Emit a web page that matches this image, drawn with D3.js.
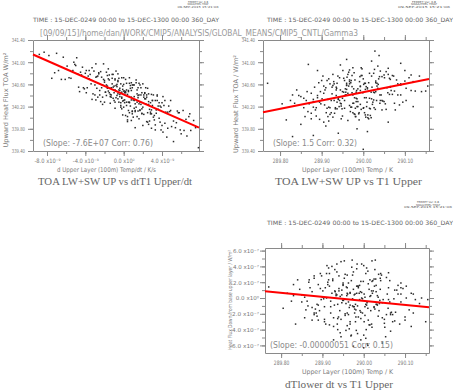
<!DOCTYPE html>
<html>
<head>
<meta charset="utf-8">
<style>
body { margin: 0; background: #fff; }
svg { display: block; font-family: "DejaVu Sans", sans-serif; }
.axis path, .axis line { stroke: #8a8a8a; }
.axis text { fill: #7a7a7a; font-family: "DejaVu Sans", sans-serif; }
.small { fill: #7a7a7a; }
.title { fill: #666; font-family: "Liberation Serif", "DejaVu Serif", serif; }
</style>
</head>
<body>
<svg width="453" height="390"></svg>
<script src="https://cdn.jsdelivr.net/npm/d3@7"></script>
<script>
// ---- data ----
// panel 1: d(T1 upper)/dt in units of 1e-9 K/s vs TOA upward flux (W/m2)
var dT1dt = [
-0.4,1.2,-2.1,0.8,3.5,-1.3,0.1,2.4,-3.6,1.7, 0.5,-0.9,4.3,-4.8,2.0,-0.2,1.5,-2.7,5.6,0.3,
-1.8,2.9,-0.6,1.0,-5.9,3.1,-1.1,0.6,6.8,-3.0, 1.9,-0.1,2.6,-2.4,0.9,4.9,-1.6,0.0,-7.2,3.8,
-0.8,1.4,-3.3,2.2,0.2,-4.2,3.3,-1.4,1.1,5.2, -2.2,0.7,-0.3,2.8,-5.1,1.6,-1.0,4.1,-0.5,0.4,
3.0,-1.9,1.3,-6.5,0.6,2.5,-2.9,6.2,-0.7,1.8, -3.9,0.1,3.7,-1.2,2.1,-0.4,7.5,-2.5,0.9,-4.5,
1.6,-1.5,4.6,-0.2,2.3,-3.2,0.5,3.4,-8.3,1.1, -0.9,2.7,-2.0,0.3,5.9,-1.7,1.5,-5.5,0.8,3.9,
-0.1,1.9,-3.7,2.9,-1.3,0.6,4.4,-2.6,1.2,-0.6, 3.2,-4.0,0.2,2.1,-1.8,6.5,-0.3,1.4,-2.3,0.9,
-6.1,2.4,-0.8,4.0,0.0,-2.8,1.7,-1.1,3.6,-0.4, 1.0,-3.4,5.0,-0.7,2.6,-1.6,0.4,-4.7,3.0,7.0,
-2.0,0.7,-0.2,1.8,-7.8,2.2,-1.4,0.1,4.7,-2.9, 1.3,-0.9,3.3,-5.0,0.5,2.0,-1.7,5.4,-0.1,1.5,
-3.1,2.8,-0.5,0.8,-2.2,4.2,-1.0,3.1,-4.4,0.3, 6.0,-1.2,1.1,-0.3,2.5,-6.8,0.6,-2.4,3.8,1.9,
-0.7,2.3,-3.8,1.4,-1.5,0.0,5.7,-0.6,2.9,-2.6, 0.9,-5.3,3.5,-1.9,0.2,1.7,-0.9,4.8,-3.5,2.6,
-7.0,7.8,5.2,-8.8,6.6,1.2,-4.9,4.5,0.4,-2.1, 2.0,-0.5,3.9,-3.0,1.6,-1.3,6.3,-0.1,2.4,-5.7,
0.7,3.4,-2.7,1.0,-0.8,4.3,-1.6,2.7,-4.1,0.1, -1.1,1.8,5.5,-0.3,3.0,-2.3,0.5,2.2,-6.3,1.3,
-0.2,2.6,-3.3,0.8,4.1,-1.8,1.5,-0.6,3.6,-2.5, 0.3,-1.4,2.1,-4.6,1.1,3.2,-0.4,-2.8,4.9,0.6,
-3.6,1.6,-0.9,2.8,-7.5,0.0,3.7,-1.2,1.9,6.9, -0.6,0.4,-2.0,2.5,-5.2,1.4,4.6,-1.7,0.2,3.3,
2.3,-1.0,0.9,-3.9,1.7,5.8,-0.2,2.9,-2.2,0.6, -4.3,3.5,0.0,1.2,-1.5,7.3,-2.9,0.8,4.0,-0.8
];
var toaFlux = [
340.49,340.11,340.69,340.32,340.41,340.37,340.48,339.93,340.85,340.28, 340.28,340.70,339.90,340.79,340.61,340.37,340.40,340.37,340.12,340.28,
340.59,339.81,340.65,340.32,340.93,340.01,340.78,340.28,340.02,340.41, 340.45,340.30,340.24,340.83,340.07,340.13,340.48,340.72,340.81,339.92,
340.58,340.28,340.33,340.44,340.45,340.54,340.31,340.42,340.59,339.94, 340.59,340.58,340.19,340.07,340.96,340.25,340.57,340.38,340.28,340.02,
340.31,340.46,340.68,340.69,340.38,339.92,340.73,340.13,340.40,340.41, 340.45,340.45,339.99,340.71,340.06,340.53,339.82,340.49,340.59,340.82,
339.98,340.68,340.10,340.35,340.54,340.43,340.49,340.14,341.18,340.17, 340.68,340.15,340.28,340.50,339.78,340.57,340.54,340.71,339.95,340.19,
340.57,340.07,340.75,340.42,340.41,340.09,340.10,340.79,340.25,340.79, 340.04,340.80,340.04,340.37,340.82,339.97,340.27,340.50,340.54,340.11,
340.69,340.37,340.48,339.86,340.60,340.53,340.59,340.35,340.21,340.42, 340.59,340.61,339.84,340.56,339.88,340.70,340.42,340.55,340.31,339.77,
340.64,340.21,340.72,340.24,341.12,340.45,340.26,340.32,340.21,340.97, 340.19,340.50,339.87,340.94,340.47,340.19,340.76,339.82,340.05,340.36,
340.84,340.10,340.50,340.63,340.37,340.22,340.45,340.41,340.77,340.22, 339.71,340.61,340.31,340.61,340.09,340.85,340.72,340.29,340.21,340.08,
340.60,340.25,340.54,340.02,340.77,340.48,340.09,340.34,340.14,340.81, 340.12,340.85,340.31,340.46,340.69,340.14,340.17,340.11,340.78,340.43,
341.16,339.46,339.57,341.14,339.67,339.82,341.08,339.65,339.93,340.97, 339.86,340.71,339.78,340.59,340.41,340.54,339.77,340.51,340.41,340.72,
340.53,340.08,340.75,340.01,340.36,340.31,340.88,339.94,340.52,340.27, 340.55,340.54,339.91,340.22,340.22,340.73,340.13,340.34,341.09,340.63,
340.16,340.29,340.90,340.49,339.74,340.40,340.12,340.67,340.15,340.41, 340.62,340.38,340.41,340.47,340.38,339.96,340.38,340.74,340.31,340.27,
340.70,340.62,340.28,340.27,340.71,340.19,340.27,340.78,340.16,340.07, 340.43,339.96,340.67,340.53,341.00,340.43,339.81,340.53,340.47,339.78,
340.34,340.31,340.54,340.85,340.13,340.09,340.46,340.07,340.24,340.62, 340.91,340.39,340.31,340.13,340.45,339.95,340.32,340.37,340.27,340.84
];

// panels 2 and 3: upper layer (100m) temperature, K
var t1Upper = [
289.987,289.927,290.060,289.955,289.978,290.032,289.880,290.006,289.967,290.115, 289.942,290.041,289.863,290.000,289.973,290.019,289.905,290.073,289.983,289.920,
290.050,289.960,289.995,289.887,290.026,289.936,290.090,289.975,289.913,290.011, 289.970,290.067,289.949,289.992,289.835,290.036,289.931,290.003,289.980,289.895,
290.015,289.917,290.103,289.963,290.045,289.875,289.990,289.945,290.027,289.905, 289.997,289.885,290.055,289.935,289.985,290.080,289.957,290.022,289.850,290.035,
289.915,290.010,289.967,290.125,289.940,289.978,290.063,289.900,289.993,289.953, 290.030,289.870,290.005,289.925,290.070,289.961,290.040,289.805,289.983,289.937,
289.989,289.908,290.083,289.947,290.020,289.890,289.975,290.047,289.930,290.001, 289.958,290.095,289.920,290.013,289.845,290.057,289.972,290.025,289.880,290.135,
289.980,289.933,290.043,289.965,290.008,289.898,290.065,289.950,289.993,289.815, 290.023,289.955,290.110,289.911,289.982,290.033,289.865,289.999,289.943,290.053,
289.973,290.005,289.895,290.075,289.927,289.987,290.017,289.960,290.155,289.857, 290.037,289.940,289.995,289.905,290.060,289.967,290.010,289.923,290.087,289.951,
290.003,289.883,290.030,289.970,290.120,289.917,289.977,290.050,289.947,290.015, 289.963,290.063,289.935,289.981,289.897,290.025,289.875,289.995,290.100,289.913,
290.011,289.957,290.045,289.930,289.975,290.070,289.945,289.990,289.890,290.027, 289.825,289.985,290.035,289.937,290.000,289.903,290.090,289.965,290.017,289.950,
290.055,289.920,290.007,289.960,290.077,289.880,290.020,289.979,289.910,289.993, 289.933,290.115,289.953,290.040,289.860,290.003,289.971,290.065,289.925,289.983,
290.028,290.038,290.000,289.830,289.880,289.940,289.868,289.770,290.150,289.960, 289.985,290.090,289.910,290.010,289.945,290.120,289.890,290.060,289.850,290.020,
289.991,289.901,290.029,289.939,290.103,289.969,290.013,289.857,290.041,289.959, 289.887,290.021,289.973,290.083,289.923,289.997,289.947,290.051,289.840,290.007,
289.977,289.927,290.065,289.963,290.033,289.907,289.987,290.140,289.937,290.015, 289.950,290.045,289.875,290.005,289.967,290.025,289.915,290.100,289.975,289.943,
290.059,289.960,290.001,289.893,290.019,289.935,289.984,290.075,289.917,290.039, 289.955,289.993,289.830,290.030,289.929,289.981,290.090,289.967,290.009,289.867
];
// panel 2: TOA upward flux, W/m2
var toaUp = [
340.52,340.01,340.78,340.31,340.81,340.31,340.29,340.01,340.61,340.49, 340.20,340.84,340.31,340.17,340.56,340.46,339.92,340.75,340.46,340.61,
340.29,340.51,340.90,340.18,340.18,340.53,340.59,340.26,340.67,340.05, 340.63,340.49,340.16,340.74,340.26,340.60,340.08,340.62,340.06,340.28,
340.35,340.70,340.31,340.44,340.74,340.08,339.96,340.50,340.45,340.57, 340.76,340.14,340.15,340.55,340.34,340.68,340.41,340.24,340.38,340.93,
340.02,340.52,340.65,340.48,340.33,340.07,340.71,340.67,340.24,340.46, 340.63,340.25,340.05,340.55,340.42,340.73,340.26,340.25,340.35,340.16,
340.07,340.50,340.61,340.25,340.75,340.40,340.90,340.30,340.31,340.60, 340.46,340.28,340.18,339.98,340.40,340.54,340.19,340.80,340.19,340.75,
340.68,340.18,340.41,340.82,340.20,340.25,340.69,340.03,340.49,339.96, 340.28,340.67,340.72,340.09,340.02,340.57,340.47,340.45,340.72,340.25,
340.45,340.62,339.97,340.48,340.78,340.29,340.04,340.62,340.57,340.18, 340.70,340.34,340.15,340.44,340.89,340.22,340.54,340.09,340.23,340.85,
340.36,340.55,340.66,340.19,340.65,339.94,340.52,340.77,340.21,340.17, 340.78,340.42,340.40,340.17,340.47,340.46,339.98,340.76,340.66,340.17,
340.00,340.52,340.31,340.61,340.41,340.76,340.26,340.09,340.36,340.87, 340.31,340.20,340.53,340.28,340.70,340.75,340.41,340.57,340.16,340.35,
340.83,340.06,340.56,340.58,340.14,340.33,340.34,340.36,340.54,340.57, 340.16,340.77,340.71,340.41,340.02,340.09,340.67,340.56,340.43,340.29,
341.20,341.12,339.43,339.66,339.68,339.72,340.96,340.62,340.48,341.05, 339.80,340.98,339.85,339.75,340.95,340.20,340.85,339.92,339.88,341.02,
340.65,340.34,340.15,340.75,340.53,340.11,340.63,340.35,340.31,340.41, 340.03,340.55,340.76,340.41,340.31,340.88,339.98,340.72,340.50,340.36,
340.26,340.58,340.55,339.95,340.62,340.23,340.20,340.47,340.62,340.80, 340.47,340.14,340.44,340.51,340.68,340.32,340.33,340.85,340.09,340.31,
340.45,340.59,340.18,340.63,340.00,340.50,340.49,340.26,340.19,340.74, 340.17,340.56,340.41,340.47,340.65,340.02,340.61,340.86,340.28,340.11
];
// panel 3: dT lower / dt, units of 1e-7
var dTlower = [
1.5,-2.5,-0.2,3.0,-1.4,-0.8,2.5,-4.0,0.7,0.6, -1.6,2.2,-0.4,-4.7,-0.1,0.9,-2.7,-0.1,3.7,-0.4,
-2.7,0.6,4.3,-0.8,1.5,-3.3,-0.5,-1.1,1.7,-2.8, 2.2,-1.8,-0.3,0.8,-3.3,3.0,0.8,-2.2,-0.8,3.1,
-3.4,1.5,1.5,-0.5,-5.7,0.8,1.6,-2.7,3.6,-1.1, -0.1,-1.9,-2.1,3.3,-1.0,1.0,-4.1,2.2,0.4,-2.3,
3.8,-1.3,-3.3,-0.2,1.2,-1.9,2.2,0.1,-2.6,4.7, -0.8,1.3,-5.1,2.2,-2.1,0.5,2.5,-1.3,1.5,-0.8,
0.6,-3.3,0.5,-0.6,2.1,-0.9,-6.1,-0.2,3.6,-3.0, 1.4,1.2,-1.1,-3.4,1.1,0.5,4.8,-1.2,-2.1,-0.7,
-3.0,0.5,2.9,-1.2,-0.6,2.8,-4.2,1.7,-1.8,0.6, 0.9,-2.2,-1.5,4.1,-4.1,0.3,-1.0,2.1,0.2,-4.9,
2.9,-0.8,1.2,-2.9,-5.3,1.3,0.3,-1.9,-0.2,-2.5, -1.6,2.8,0.0,-3.0,1.3,-0.9,3.4,0.6,-3.3,-0.3,
0.1,-1.4,1.6,-4.7,0.5,3.1,-1.1,-3.2,1.0,0.2, -2.1,-0.5,4.3,-1.5,-0.2,2.4,-2.8,0.7,-2.4,2.0,
1.8,-0.7,-2.5,0.9,3.3,-3.0,-4.9,-0.2,1.7,-1.4, -0.4,1.5,0.1,-2.6,4.1,-0.1,0.5,-3.9,-1.6,1.9,
2.6,-1.9,-0.9,1.3,-1.8,2.8,-3.7,0.5,0.0,-5.3, 0.3,-3.6,2.5,1.1,-1.5,-1.1,3.9,-2.1,2.4,0.6,
4.8,-0.7,-6.3,1.7,-1.9,0.9,2.3,1.4,-3.0,-3.5, -4.5,1.9,3.1,-6.0,4.6,-1.9,-2.8,3.2,-0.5,4.7,
-1.6,0.9,2.4,-2.4,0.0,-4.8,1.1,0.1,3.1,0.3, -2.3,0.6,-1.0,1.6,4.0,-1.9,0.4,-3.7,2.3,3.8,
0.4,-3.6,-1.9,1.9,-0.9,1.3,-2.4,0.0,-4.0,2.3, 1.6,-0.6,-1.2,3.1,-3.0,-1.1,2.3,-2.8,1.1,-4.4,
-1.3,2.9,0.5,-1.6,-3.3,0.4,4.3,1.0,-3.4,-0.3, -2.0,2.1,0.3,0.8,-0.9,-2.4,1.3,0.6,-5.8,2.0
];

// regression fits (value at fitAt, slope in plotted units)
var fitSlope = [-0.076, 1.5, -5.1];
var fitAt = [0, 290.0, 290.0];
var fitValue = [340.42, 340.46, -0.36];
var fitText = ["(Slope: -7.6E+07 Corr: 0.76)", "(Slope: 1.5 Corr: 0.32)", "(Slope: -0.00000051 Corr: 0.15)"];

// ticks
var fluxTicks = [339.4, 339.8, 340.2, 340.6, 341.0, 341.4];
var fluxMinor = [339.4, 339.6, 339.8, 340.0, 340.2, 340.4, 340.6, 340.8, 341.0, 341.2, 341.4];
var dtTicks = [-8, -4, 0, 4];
var dtMinor = [-8, -6, -4, -2, 0, 2, 4, 6];
var tempTicks = [289.8, 289.9, 290.0, 290.1];
var tempMinor = [289.8, 289.85, 289.9, 289.95, 290.0, 290.05, 290.1, 290.15];
var lowTicks = [-6, -4, -2, 0, 2, 4, 6];
var lowMinor = [-6, -5, -4, -3, -2, -1, 0, 1, 2, 3, 4, 5, 6];

// texts
var titles = ["TOA LW+SW UP vs dtT1 Upper/dt", "TOA LW+SW UP vs T1 Upper", "dTlower dt vs T1 Upper"];
var xTitles = ["d Upper Layer (100m) Temp/dt / K/s", "Upper Layer (100m) Temp / K", "Upper Layer (100m) Temp / K"];
var yTitles = ["Upward Heat Flux TOA W/m\u00b2", "Upward Heat Flux TOA / W/m\u00b2", "Heat Flux Down from base upper layer / W/m\u00b2"];
var timeLabel = "TIME : 15-DEC-0249 00:00 to 15-DEC-1300 00:00 360_DAY";
var stampLines = ["FERRET Ver. 6.8", "NOAA/PMEL TMAP", "09-SEP-2015 15:21:06"];
var pathLabel = "[09/09/15]/home/dan/WORK/CMIP5/ANALYSIS/GLOBAL_MEANS/CMIP5_CNTL/Gamma3";

var supers = {"-": "\u207b", "0": "\u2070", "7": "\u2077", "9": "\u2079"};

var svg = d3.select("svg");

var panels = [
  {xs: dT1dt, ys: toaFlux, left: 33, right: 199, top: 40, bottom: 151,
   xDomain: [-9.46, 7.86], yDomain: [339.4, 341.4],
   xTicks: dtTicks, xMinor: dtMinor, xExp: "-9", xChar: 2.6,
   yTicks: fluxTicks, yMinor: fluxMinor, yExp: null, yChar: 2.2, yOff: -8,
   title: [38, 185, 154], xTitle: [57, 172, 99], yTitle: [8, 100, 95],
   fit: [43, 146, 110], time: [33, 22], stamp: [198, 2.8, [20, 21, 41]]},
  {xs: t1Upper, ys: toaUp, left: 263, right: 429, top: 40, bottom: 151,
   xDomain: [289.759, 290.158], yDomain: [339.4, 341.4],
   xTicks: tempTicks, xMinor: tempMinor, xExp: null, xChar: 2.6,
   yTicks: fluxTicks, yMinor: fluxMinor, yExp: null, yChar: 2.2, yOff: -8,
   title: [275, 185, 147], xTitle: [302, 172, 91], yTitle: [238, 104, 98],
   fit: [273, 146, 84], time: [267, 22], stamp: [424, 2.8, [24, 26, 52]]},
  {xs: t1Upper, ys: dTlower, left: 265, right: 429, top: 248, bottom: 353,
   xDomain: [289.761, 290.158], yDomain: [-6.96, 6.33],
   xTicks: tempTicks, xMinor: tempMinor, xExp: null, xChar: 2.6,
   yTicks: lowTicks, yMinor: lowMinor, yExp: "-7", yChar: 2.9, yOff: -6,
   title: [285, 388, 108], xTitle: [302, 374, 91], yTitle: [232, 300, 100],
   fit: [270, 348, 123], time: [267, 225], stamp: [428, 203, [22, 24, 48]]}
];

panels.forEach(drawPanel);

svg.append("text")
    .attr("class", "small")
    .attr("x", 40).attr("y", 35.5)
    .attr("textLength", 318).attr("lengthAdjust", "spacingAndGlyphs")
    .style("font-size", "9.5px").style("fill", "#9a9a9a")
    .text(pathLabel);

// "-8.0 x10⁻⁹" style labels, one text node each
function sciFormat(exp) {
  return function(d) {
    var e = (d === 0 ? "0" : exp).split("").map(function(c) { return supers[c]; }).join("");
    return d.toFixed(1) + " x10" + e;
  };
}

function fitLength(sel, perChar) {
  sel.attr("textLength", function() { return this.textContent.length * perChar; })
     .attr("lengthAdjust", "spacingAndGlyphs");
}

function drawPanel(p, i) {
  var x = d3.scaleLinear().domain(p.xDomain).range([p.left, p.right]),
      y = d3.scaleLinear().domain(p.yDomain).range([p.bottom, p.top]);

  var g = svg.append("g").attr("class", "panel");

  // minor ticks on all sides
  [[d3.axisBottom(x), 0, p.bottom, p.xMinor], [d3.axisTop(x), 0, p.top, p.xMinor],
   [d3.axisLeft(y), p.left, 0, p.yMinor], [d3.axisRight(y), p.right, 0, p.yMinor]]
    .forEach(function(a) {
      g.append("g").attr("class", "axis")
          .attr("transform", "translate(" + a[1] + "," + a[2] + ")")
          .call(a[0].tickValues(a[3]).tickSize(3).tickSizeOuter(0).tickFormat(""))
          .select(".domain").remove();
    });

  var fmt2 = function(d) { return d.toFixed(2); };

  // major ticks + frame
  var xb = g.append("g").attr("class", "axis")
      .attr("transform", "translate(0," + p.bottom + ")")
      .call(d3.axisBottom(x).tickValues(p.xTicks).tickSize(5).tickSizeOuter(0)
            .tickFormat(p.xExp ? sciFormat(p.xExp) : fmt2));
  g.append("g").attr("class", "axis")
      .attr("transform", "translate(0," + p.top + ")")
      .call(d3.axisTop(x).tickValues(p.xTicks).tickSize(5).tickSizeOuter(0).tickFormat(""));
  var yl = g.append("g").attr("class", "axis")
      .attr("transform", "translate(" + p.left + ",0)")
      .call(d3.axisLeft(y).tickValues(p.yTicks).tickSize(5).tickSizeOuter(0)
            .tickFormat(p.yExp ? sciFormat(p.yExp) : fmt2));
  g.append("g").attr("class", "axis")
      .attr("transform", "translate(" + p.right + ",0)")
      .call(d3.axisRight(y).tickValues(p.yTicks).tickSize(5).tickSizeOuter(0).tickFormat(""));

  var xt = xb.selectAll("text").attr("y", 12).attr("dy", 0).style("font-size", "6px");
  fitLength(xt, p.xChar);

  var yt = yl.selectAll("text").attr("x", p.yOff).attr("dy", "0.35em").style("font-size", "5.5px");
  fitLength(yt, p.yChar);

  // points
  var pts = p.xs.map(function(v, k) { return {x: v, y: p.ys[k]}; });
  g.selectAll("rect.pt")
    .data(pts)
    .enter().append("rect")
      .attr("class", "pt")
      .attr("x", function(d) { return x(d.x) - 0.75; })
      .attr("y", function(d) { return y(d.y) - 0.75; })
      .attr("width", 1.5).attr("height", 1.5)
      .attr("fill", "#2a2a2a");

  // regression line
  var ends = p.xDomain.map(function(v) {
    return [x(v), y(fitValue[i] + fitSlope[i] * (v - fitAt[i]))];
  });
  g.append("path")
      .attr("d", d3.line()(ends))
      .attr("stroke", "#f00").attr("stroke-width", 2).attr("fill", "none");

  // texts
  g.append("text").attr("class", "small")
      .attr("x", p.fit[0]).attr("y", p.fit[1])
      .attr("textLength", p.fit[2]).attr("lengthAdjust", "spacingAndGlyphs")
      .style("font-size", "8.5px").style("fill", "#8a8a8a")
      .text(fitText[i]);

  g.append("text").attr("class", "title")
      .attr("x", p.title[0]).attr("y", p.title[1])
      .attr("textLength", p.title[2]).attr("lengthAdjust", "spacingAndGlyphs")
      .style("font-size", "10.5px")
      .text(titles[i]);

  g.append("text").attr("class", "small")
      .attr("x", p.xTitle[0]).attr("y", p.xTitle[1])
      .attr("textLength", p.xTitle[2]).attr("lengthAdjust", "spacingAndGlyphs")
      .style("font-size", "6.5px")
      .text(xTitles[i]);

  g.append("text").attr("class", "small")
      .attr("transform", "translate(" + p.yTitle[0] + "," + p.yTitle[1] + ") rotate(-90)")
      .attr("text-anchor", "middle")
      .attr("textLength", p.yTitle[2]).attr("lengthAdjust", "spacingAndGlyphs")
      .style("font-size", i === 2 ? "5.5px" : "6.5px")
      .text(yTitles[i]);

  g.append("text").attr("class", "small")
      .attr("x", p.time[0]).attr("y", p.time[1])
      .attr("textLength", 186).attr("lengthAdjust", "spacingAndGlyphs")
      .style("font-size", "6px").style("fill", "#666")
      .text(timeLabel);

  g.selectAll("text.stamp")
    .data(stampLines)
    .enter().append("text")
      .attr("class", "stamp")
      .attr("x", p.stamp[0])
      .attr("y", function(d, k) { return p.stamp[1] + k * 2.6; })
      .attr("text-anchor", "middle")
      .attr("textLength", function(d, k) { return p.stamp[2][k]; })
      .attr("lengthAdjust", "spacingAndGlyphs")
      .style("font-size", "2.8px").style("fill", "#555")
      .text(function(d) { return d; });
}
</script>
</body>
</html>
